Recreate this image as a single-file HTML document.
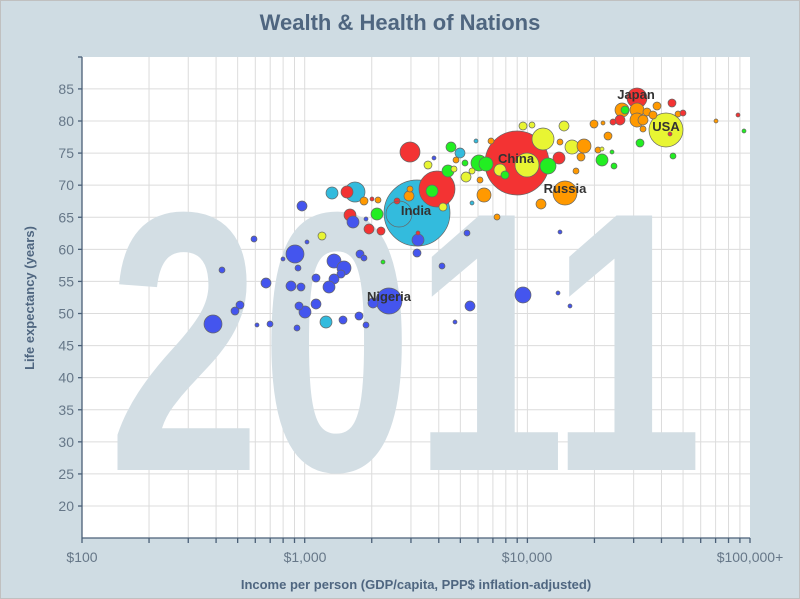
<!DOCTYPE html>
<html><head><meta charset="utf-8"><style>
html,body{margin:0;padding:0;background:#cfdce3;}
svg{display:block;font-family:"Liberation Sans",sans-serif;}
</style></head><body>
<svg width="800" height="599" viewBox="0 0 800 599">
<rect x="0.5" y="0.5" width="799" height="598" fill="#cfdce3" stroke="#c0c0c0"/>
<text x="400" y="30" text-anchor="middle" font-size="22" font-weight="bold" fill="#4f6680">Wealth &amp; Health of Nations</text>
<rect x="82" y="57" width="668" height="481" fill="#fff"/>
<g stroke="#dcdcdc" stroke-width="1" id="grid"></g>
<text x="108" y="470" font-size="370" font-weight="bold" fill="#d3dee4" textLength="595" lengthAdjust="spacingAndGlyphs">2011</text>
<g stroke="#666" stroke-width="0.7" id="b"></g>
<g stroke="#4a5f77" stroke-width="1.3" id="ax"></g>
<g font-size="14" fill="#667788" id="lbl"></g>
<text transform="translate(34,298) rotate(-90)" text-anchor="middle" font-size="13" font-weight="bold" fill="#4f6680">Life expectancy (years)</text>
<text x="416" y="589" text-anchor="middle" font-size="13" font-weight="bold" fill="#4f6680">Income per person (GDP/capita, PPP$ inflation-adjusted)</text>
<g font-size="13" font-weight="bold" fill="#333">
<text x="636" y="99" text-anchor="middle">Japan</text>
<text x="666" y="131" text-anchor="middle">USA</text>
<text x="516" y="163" text-anchor="middle">China</text>
<text x="565" y="193" text-anchor="middle">Russia</text>
<text x="416" y="215" text-anchor="middle">India</text>
<text x="389" y="301" text-anchor="middle">Nigeria</text>
</g>
</svg>
<script>
var ns="http://www.w3.org/2000/svg";
function el(p,t,a,txt){var e=document.createElementNS(ns,t);for(var k in a)e.setAttribute(k,a[k]);if(txt)e.textContent=txt;document.getElementById(p).appendChild(e);return e;}
var X=function(g){return 82+222.7*Math.log10(g/100);};
var Y=function(v){return 121+(80-v)*6.417;};
for(var d=100;d<100000;d*=10)for(var m=1;m<10;m++){var x=X(d*m);if(x>82.5)el("grid","line",{x1:x,x2:x,y1:57,y2:538});}
for(var v=20;v<=85;v+=5){var y=Y(v);el("grid","line",{x1:82,x2:750,y1:y,y2:y});el("ax","line",{x1:78,x2:82,y1:y,y2:y});el("lbl","text",{x:74,y:y+5,"text-anchor":"end"},""+v);}
el("ax","line",{x1:82,x2:82,y1:57,y2:538});el("ax","line",{x1:78,x2:82,y1:57,y2:57});el("ax","line",{x1:82,x2:750,y1:538,y2:538});
for(var d=100;d<100000;d*=10)for(var m=1;m<10;m++){var x=X(d*m);el("ax","line",{x1:x,x2:x,y1:538,y2:543});}
el("ax","line",{x1:750,x2:750,y1:538,y2:543});
[["$100",82],["$1,000",305],["$10,000",527],["$100,000+",750]].forEach(function(a){el("lbl","text",{x:a[1],y:562,"text-anchor":"middle"},a[0]);});
var C={b:"#4455ee",c:"#33bbdd",r:"#f33333",o:"#ff9900",y:"#e8f533",g:"#22ee22"};
var B=[
["c",417,213,33],["r",517,163,32],["y",527,165,12],["y",543,139,11],["c",355,192,10],["r",437,189,18],["r",410,152,10],
["b",389,301,13],["b",213,324,9],["b",295,254,9],["b",523,295,8],["y",666,130,17],["o",565,193,12],["r",637,98,10],
["b",302,206,5],["b",254,239,3],["b",222,270,3],["b",307,242,2],["b",283,259,2],["b",298,268,3],["b",266,283,5],
["b",291,286,5],["b",301,287,4],["b",316,278,4],["b",334,261,7],["b",344,268,7],["b",341,274,4],["b",334,279,5],
["b",329,287,6],["b",316,304,5],["b",305,312,6],["b",299,306,4],["b",240,305,4],["b",235,311,4],["b",257,325,2],
["b",270,324,3],["b",297,328,3],["c",326,322,6],["b",343,320,4],["b",359,316,4],["b",366,325,3],["b",373,303,5],
["b",360,254,4],["b",364,258,3],["g",383,262,2],["b",417,253,4],["b",442,266,3],["b",467,233,3],["b",470,306,5],
["b",455,322,2],["b",418,240,6],["r",418,233,2],["y",322,236,4],["c",332,193,6],["r",347,192,6],["o",364,201,4],
["r",372,199,2],["o",378,200,3],["r",350,215,6],["b",353,222,6],["b",366,219,2],["g",377,214,6],["r",369,229,5],
["r",381,231,4],["r",397,201,3],["o",409,196,5],["o",410,189,3],["g",432,191,6],["y",443,207,4],["c",472,203,2],
["o",484,195,7],["o",497,217,3],["o",541,204,5],["b",560,232,2],["b",558,293,2],["b",570,306,2],
["r",559,158,6],["g",548,166,8],["g",479,163,8],["g",486,164,7],["g",451,147,5],["c",460,153,5],["o",456,160,3],
["y",428,165,4],["g",465,163,3],["g",448,171,6],["y",466,177,5],["y",454,169,3],["y",472,171,3],["b",434,158,2],
["c",476,141,2],["o",491,141,3],["y",523,126,4],["y",532,125,3],["y",564,126,5],["o",560,142,3],["y",572,147,7],
["o",584,146,7],["o",581,157,4],["g",602,160,6],["o",576,171,3],["o",598,150,3],["y",602,149,2],["g",612,152,2],
["g",614,166,3],["o",594,124,4],["o",608,136,4],["o",622,110,7],["g",625,110,4],["o",637,110,7],["o",647,112,4],
["o",657,106,4],["r",672,103,4],["r",620,120,5],["o",637,120,7],["o",643,120,5],["o",653,115,4],["o",678,114,3],
["r",683,113,3],["r",613,122,3],["o",603,123,2],["o",643,129,3],["r",670,134,2],["g",640,143,4],["g",673,156,3],
["o",716,121,2],["r",738,115,2],["g",744,131,2],["y",500,170,6],["g",505,175,4],["o",480,180,3]];
B.forEach(function(a){el("b","circle",{cx:a[1],cy:a[2],r:a[3],fill:C[a[0]]});});
el("b","circle",{cx:399,cy:214,r:13,fill:"none"});
</script>
</body></html>
